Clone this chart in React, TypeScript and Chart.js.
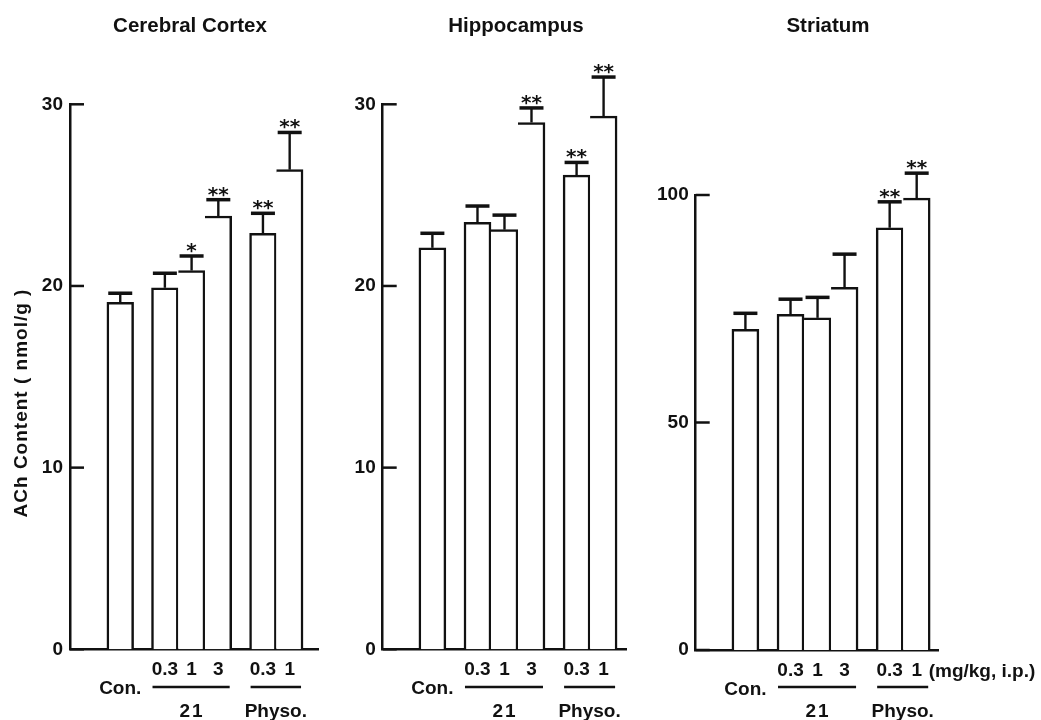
import React, { useEffect, useRef } from 'react';
import { Chart, registerables } from 'chart.js';

Chart.register(...registerables);

// ---------- data ----------
const doseLabels = ['Con.', '0.3', '1', '3', '0.3', '1'];
const groupNames = ['', '21', '21', '21', 'Physo.', 'Physo.'];

const cortexMean = [19.1, 19.9, 20.85, 23.85, 22.9, 26.4];
const cortexSem = [0.5, 0.8, 0.8, 0.9, 1.1, 2.05];
const cortexSig = ['', '', '*', '**', '**', '**'];

const hippoMean = [22.1, 23.5, 23.1, 29.0, 26.1, 29.35];
const hippoSem = [0.8, 0.9, 0.8, 0.8, 0.7, 2.15];
const hippoSig = ['', '', '', '**', '**', '**'];

const striatumMean = [70.5, 73.8, 73.0, 79.7, 92.8, 99.3];
const striatumSem = [3.5, 3.3, 4.5, 7.3, 5.7, 5.5];
const striatumSig = ['', '', '', '', '**', '**'];

const yTitle = 'ACh Content ( nmol/g )';
const unitNote = '(mg/kg, i.p.)';

// ---------- style / layout ----------
const FONT = '"Liberation Sans", Arial, sans-serif';
const STAR_FONT = '"DejaVu Sans", sans-serif';
const INK = '#111';
const W = 1041;
const H = 720;
const GROUP_GAP = 0.67;
const Y_AXIS_W = 60;
const X_AXIS_H = 60;

type Panel = {
  title: string;
  mean: number[];
  sem: number[];
  sig: string[];
  yMax: number;
  yStep: number;
  xMin: number;
  xMax: number;
  area: { left: number; right: number; top: number; bottom: number };
  titleX: number;
  showYTitle: boolean;
  showUnit: boolean;
};

const panels: Panel[] = [
  {
    title: 'Cerebral Cortex', mean: cortexMean, sem: cortexSem, sig: cortexSig,
    yMax: 30, yStep: 10, xMin: -1.88, xMax: 7.4,
    area: { left: 70, right: 318, top: 104.3, bottom: 649.3 },
    titleX: 190, showYTitle: true, showUnit: false,
  },
  {
    title: 'Hippocampus', mean: hippoMean, sem: hippoSem, sig: hippoSig,
    yMax: 30, yStep: 10, xMin: -1.84, xMax: 7.17,
    area: { left: 382.7, right: 626, top: 104.3, bottom: 649.3 },
    titleX: 516, showYTitle: false, showUnit: false,
  },
  {
    title: 'Striatum', mean: striatumMean, sem: striatumSem, sig: striatumSig,
    yMax: 100, yStep: 50, xMin: -1.84, xMax: 7.14,
    area: { left: 695.7, right: 938.3, top: 195, bottom: 650 },
    titleX: 828, showYTitle: false, showUnit: true,
  },
];

function barPositions(groups: string[]): number[] {
  const pos: number[] = [];
  let x = 0;
  groups.forEach((g, i) => {
    if (i > 0) x += 1 + (g !== groups[i - 1] ? GROUP_GAP : 0);
    pos.push(x);
  });
  return pos;
}

const positions = barPositions(groupNames);
const firstInGroup = groupNames.map((g, i) => i === 0 || g !== groupNames[i - 1]);

function makeDecor(p: Panel) {
  return {
    id: 'decor',
    afterDraw(chart: any) {
      const { ctx, chartArea } = chart;
      const xs = chart.scales.x;
      const ys = chart.scales.y;
      const line = (x1: number, y1: number, x2: number, y2: number) => {
        ctx.beginPath();
        ctx.moveTo(x1, y1);
        ctx.lineTo(x2, y2);
        ctx.stroke();
      };
      ctx.save();
      ctx.strokeStyle = INK;
      ctx.fillStyle = INK;
      ctx.lineCap = 'butt';

      // inward y ticks
      ctx.lineWidth = 2.5;
      ys.ticks.forEach((t: any) => {
        const py = ys.getPixelForValue(t.value);
        line(chartArea.left, py, chartArea.left + 14, py);
      });

      // error bars and significance marks
      p.mean.forEach((m, i) => {
        const px = xs.getPixelForValue(positions[i]);
        const y0 = ys.getPixelForValue(m);
        const y1 = ys.getPixelForValue(m + p.sem[i]);
        ctx.lineWidth = 2.4;
        line(px, y0, px, y1);
        ctx.lineWidth = 3.5;
        line(px - 12, y1, px + 12, y1);
        if (p.sig[i]) {
          ctx.font = `bold 20px ${STAR_FONT}`;
          ctx.textAlign = 'center';
          ctx.textBaseline = 'alphabetic';
          ctx.fillText(p.sig[i], px, y1 + 1);
        }
      });

      // group underlines and names
      const half = (xs.getPixelForValue(1) - xs.getPixelForValue(0)) / 2;
      const names = Array.from(new Set(groupNames.filter((g) => g !== '')));
      names.forEach((name) => {
        const idx = groupNames.map((g, i) => (g === name ? i : -1)).filter((i) => i >= 0);
        const l = xs.getPixelForValue(positions[idx[0]]) - half + 1;
        const r = xs.getPixelForValue(positions[idx[idx.length - 1]]) + half - 2;
        ctx.lineWidth = 2.5;
        line(l, 687, r, 687);
        ctx.font = `bold 19px ${FONT}`;
        ctx.textAlign = 'center';
        ctx.textBaseline = 'alphabetic';
        (ctx as any).letterSpacing = name === '21' ? '2px' : '0px';
        ctx.fillText(name, (l + r) / 2 + (name === '21' ? 1 : 0), 717);
        (ctx as any).letterSpacing = '0px';
      });

      // panel title
      ctx.font = `bold 20.5px ${FONT}`;
      ctx.textAlign = 'center';
      ctx.textBaseline = 'alphabetic';
      ctx.fillText(p.title, p.titleX, 32);

      // y title
      if (p.showYTitle) {
        ctx.save();
        ctx.translate(27, 403);
        ctx.rotate(-Math.PI / 2);
        ctx.font = `bold 19px ${FONT}`;
        (ctx as any).letterSpacing = '1px';
        ctx.textAlign = 'center';
        ctx.textBaseline = 'alphabetic';
        ctx.fillText(yTitle, 0, 0);
        ctx.restore();
      }

      // unit note
      if (p.showUnit) {
        const last = positions.length - 1;
        ctx.font = `bold 19px ${FONT}`;
        ctx.textAlign = 'left';
        ctx.textBaseline = 'alphabetic';
        ctx.fillText(unitNote, xs.getPixelForValue(positions[last]) + 12, 677);
      }
      ctx.restore();
    },
  };
}

function PanelChart({ p }: { p: Panel }) {
  const ref = useRef<HTMLCanvasElement | null>(null);
  useEffect(() => {
    if (!ref.current) return;
    const chart = new Chart(ref.current, {
      type: 'bar',
      data: {
        datasets: [
          {
            data: positions.map((x, i) => ({ x, y: p.mean[i] })),
            backgroundColor: '#ffffff',
            borderColor: INK,
            borderWidth: (c: any) => ({
              top: 2.5,
              right: 2.5,
              bottom: 0,
              left: firstInGroup[c.dataIndex] ? 2.5 : 0,
            }),
            borderSkipped: 'start',
            categoryPercentage: 1,
            barPercentage: 1,
          } as any,
        ],
      },
      options: {
        animation: false,
        responsive: false,
        devicePixelRatio: 1,
        events: [],
        layout: {
          padding: {
            left: p.area.left - Y_AXIS_W,
            right: W - p.area.right,
            top: p.area.top,
            bottom: H - p.area.bottom - X_AXIS_H,
          },
        },
        plugins: {
          legend: { display: false },
          tooltip: { enabled: false },
          title: { display: false },
        },
        scales: {
          x: {
            type: 'linear',
            offset: false,
            min: p.xMin,
            max: p.xMax,
            grid: { display: false, drawTicks: false, offset: false },
            border: { display: true, color: INK, width: 2.5 },
            afterBuildTicks: (s: any) => {
              s.ticks = positions.map((value) => ({ value }));
            },
            afterFit: (s: any) => {
              s.height = X_AXIS_H;
            },
            ticks: {
              autoSkip: false,
              maxRotation: 0,
              minRotation: 0,
              padding: 10.6,
              color: INK,
              font: { family: FONT, size: 19, weight: 'bold', lineHeight: 1.03 },
              callback: (_v: any, i: number) =>
                groupNames[i] === '' ? ['', doseLabels[i]] : doseLabels[i],
            },
          },
          y: {
            type: 'linear',
            min: 0,
            max: p.yMax,
            grid: { display: false, drawTicks: false },
            border: { display: true, color: INK, width: 2.5 },
            afterFit: (s: any) => {
              s.width = Y_AXIS_W;
            },
            ticks: {
              stepSize: p.yStep,
              padding: 7,
              color: INK,
              font: { family: FONT, size: 19, weight: 'bold' },
            },
          },
        },
      } as any,
      plugins: [makeDecor(p)],
    });
    return () => chart.destroy();
  }, [p]);
  return (
    <canvas
      ref={ref}
      width={W}
      height={H}
      style={{ position: 'absolute', left: 0, top: 0, width: W, height: H }}
    />
  );
}

export default function App() {
  return (
    <div
      style={{
        position: 'absolute',
        left: 0,
        top: 0,
        width: W,
        height: H,
        background: '#ffffff',
        overflow: 'hidden',
      }}
    >
      {panels.map((p) => (
        <PanelChart key={p.title} p={p} />
      ))}
    </div>
  );
}
